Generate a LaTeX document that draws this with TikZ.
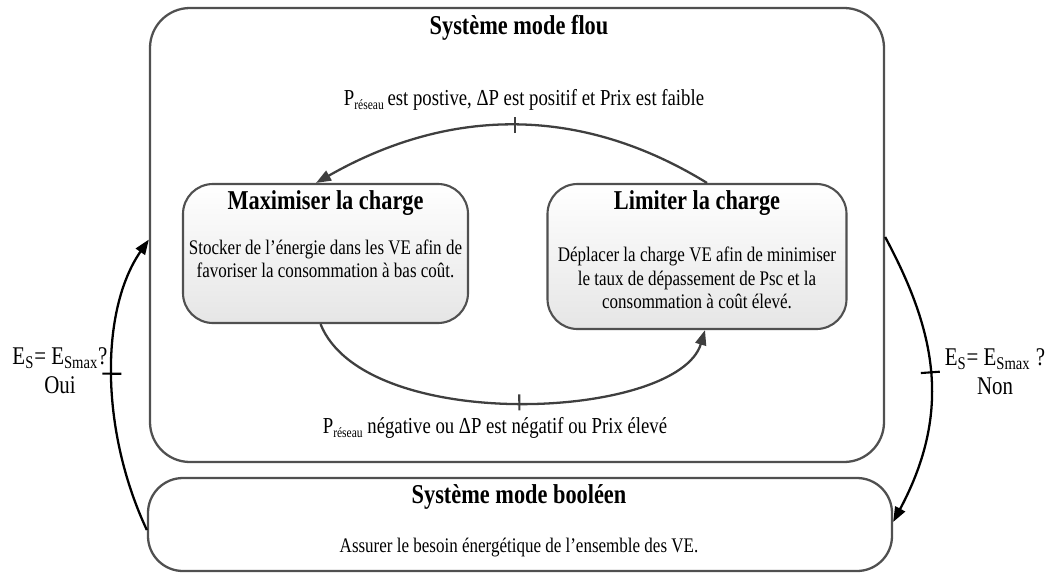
\documentclass[tikz,border=0pt]{standalone}
\usepackage{fontspec}
\setmainfont{Liberation Serif}[FakeStretch=0.82]
\usepackage{tikz}
\usetikzlibrary{arrows.meta}

\definecolor{boxgray}{HTML}{505050}
\definecolor{arcgray}{HTML}{3F3F3F}
\newcommand{\sousres}[1]{\raisebox{-0.4ex}{\fontsize{8pt}{8pt}\selectfont #1}}

\tikzset{
  modebox/.style={draw=boxgray, line width=1.3pt, rounded corners=8mm},
  statebox/.style={draw=boxgray, line width=1.2pt, rounded corners=6mm,
    top color=white, bottom color=black!10},
  boxtitle/.style={font=\bfseries\fontsize{15.5pt}{17pt}\selectfont, inner sep=0pt},
  boxtext/.style={font=\fontsize{11.8pt}{13.3pt}\selectfont, align=center, inner sep=0pt},
  condtext/.style={font=\fontsize{13pt}{15pt}\selectfont, align=center, inner sep=0pt},
  flow/.style={draw=arcgray, line width=1.3pt, -{Triangle[length=3mm,width=2.2mm]}},
  decision/.style={draw=black, line width=1.3pt, -{Triangle[length=3mm,width=2.2mm]}},
}

\begin{document}
\begin{tikzpicture}[x=0.2mm, y=-0.2mm]
  \useasboundingbox (0,0) rectangle (1052,572);

  % les deux modes
  \node[modebox, minimum width=146.8mm, minimum height=90.8mm] (flou) at (517,235) {};
  \node[modebox, rounded corners=7mm, minimum width=148.8mm, minimum height=18.6mm] (bool) at (520,524.5) {};

  \node[boxtitle] (flouT) at (519,28) {Système mode flou};
  \node[boxtitle] (boolT) at (519,497) {Système mode booléen};
  \node[boxtext] (boolX) at (519,548) {Assurer le besoin énergétique de l’ensemble des VE.};

  % les deux etats
  \node[statebox, minimum width=57mm, minimum height=27.8mm] (maxi) at (325.5,253.5) {};
  \node[statebox, minimum width=59.8mm, minimum height=29mm] (limi) at (697,256.5) {};

  \node[boxtitle] (maxiT) at (325.5,203) {Maximiser la charge};
  \node[boxtext] (maxiX) at (325.5,259) {Stocker de l’énergie dans les VE afin de\\favoriser la consommation à bas coût.};
  \node[boxtitle] (limiT) at (697,203) {Limiter la charge};
  \node[boxtext] (limiX) at (697,278) {Déplacer la charge VE afin de minimiser\\le taux de dépassement de Psc et la\\consommation à coût élevé.};

  % transitions
  \draw[flow] ([xshift=2mm]limi.north) .. controls (582,106) and (451,106) .. ([xshift=-1.9mm]maxi.north)
    node[pos=.5, sloped, inner sep=0pt] (tk1) {\textcolor{arcgray}{\rule[-1.6mm]{1.2pt}{3.2mm}}};
  \draw[flow] ([xshift=-1mm]maxi.south) .. controls (365,435) and (678,420) .. ([xshift=1.6mm]limi.south)
    node[pos=.5, sloped, inner sep=0pt] (tk2) {\textcolor{arcgray}{\rule[-1.6mm]{1.2pt}{3.2mm}}};

  \node[condtext] (c1) at (524,100) {P\sousres{réseau}\,est postive, ΔP est positif et Prix est faible};
  \node[condtext] (c2) at (495,428) {P\sousres{réseau} négative ou ΔP est négatif ou Prix élevé};

  % passage entre modes
  \draw[decision] ([yshift=-1.1mm]bool.west) .. controls (100,430) and (100,310) .. ([yshift=-0.3mm]flou.west |- 0,238)
    node[pos=.5, sloped, inner sep=0pt] (tk3) {\rule[-1.9mm]{1.2pt}{3.8mm}};
  \draw[decision] (flou.east |- 0,237) .. controls (935,330) and (953,410) .. ([yshift=0.5mm]bool.east)
    node[pos=.5, sloped, inner sep=0pt] (tk4) {\rule[-1.9mm]{1.2pt}{3.8mm}};

  \node[condtext, font=\fontsize{14.5pt}{16.5pt}\selectfont] (oui) at (60,371) {E\textsubscript{S}= E\textsubscript{Smax}?\\Oui};
  \node[condtext, font=\fontsize{14.5pt}{16.5pt}\selectfont] (non) at (995,372) {E\textsubscript{S}= E\textsubscript{Smax} ?\\Non};
\end{tikzpicture}
\end{document}
